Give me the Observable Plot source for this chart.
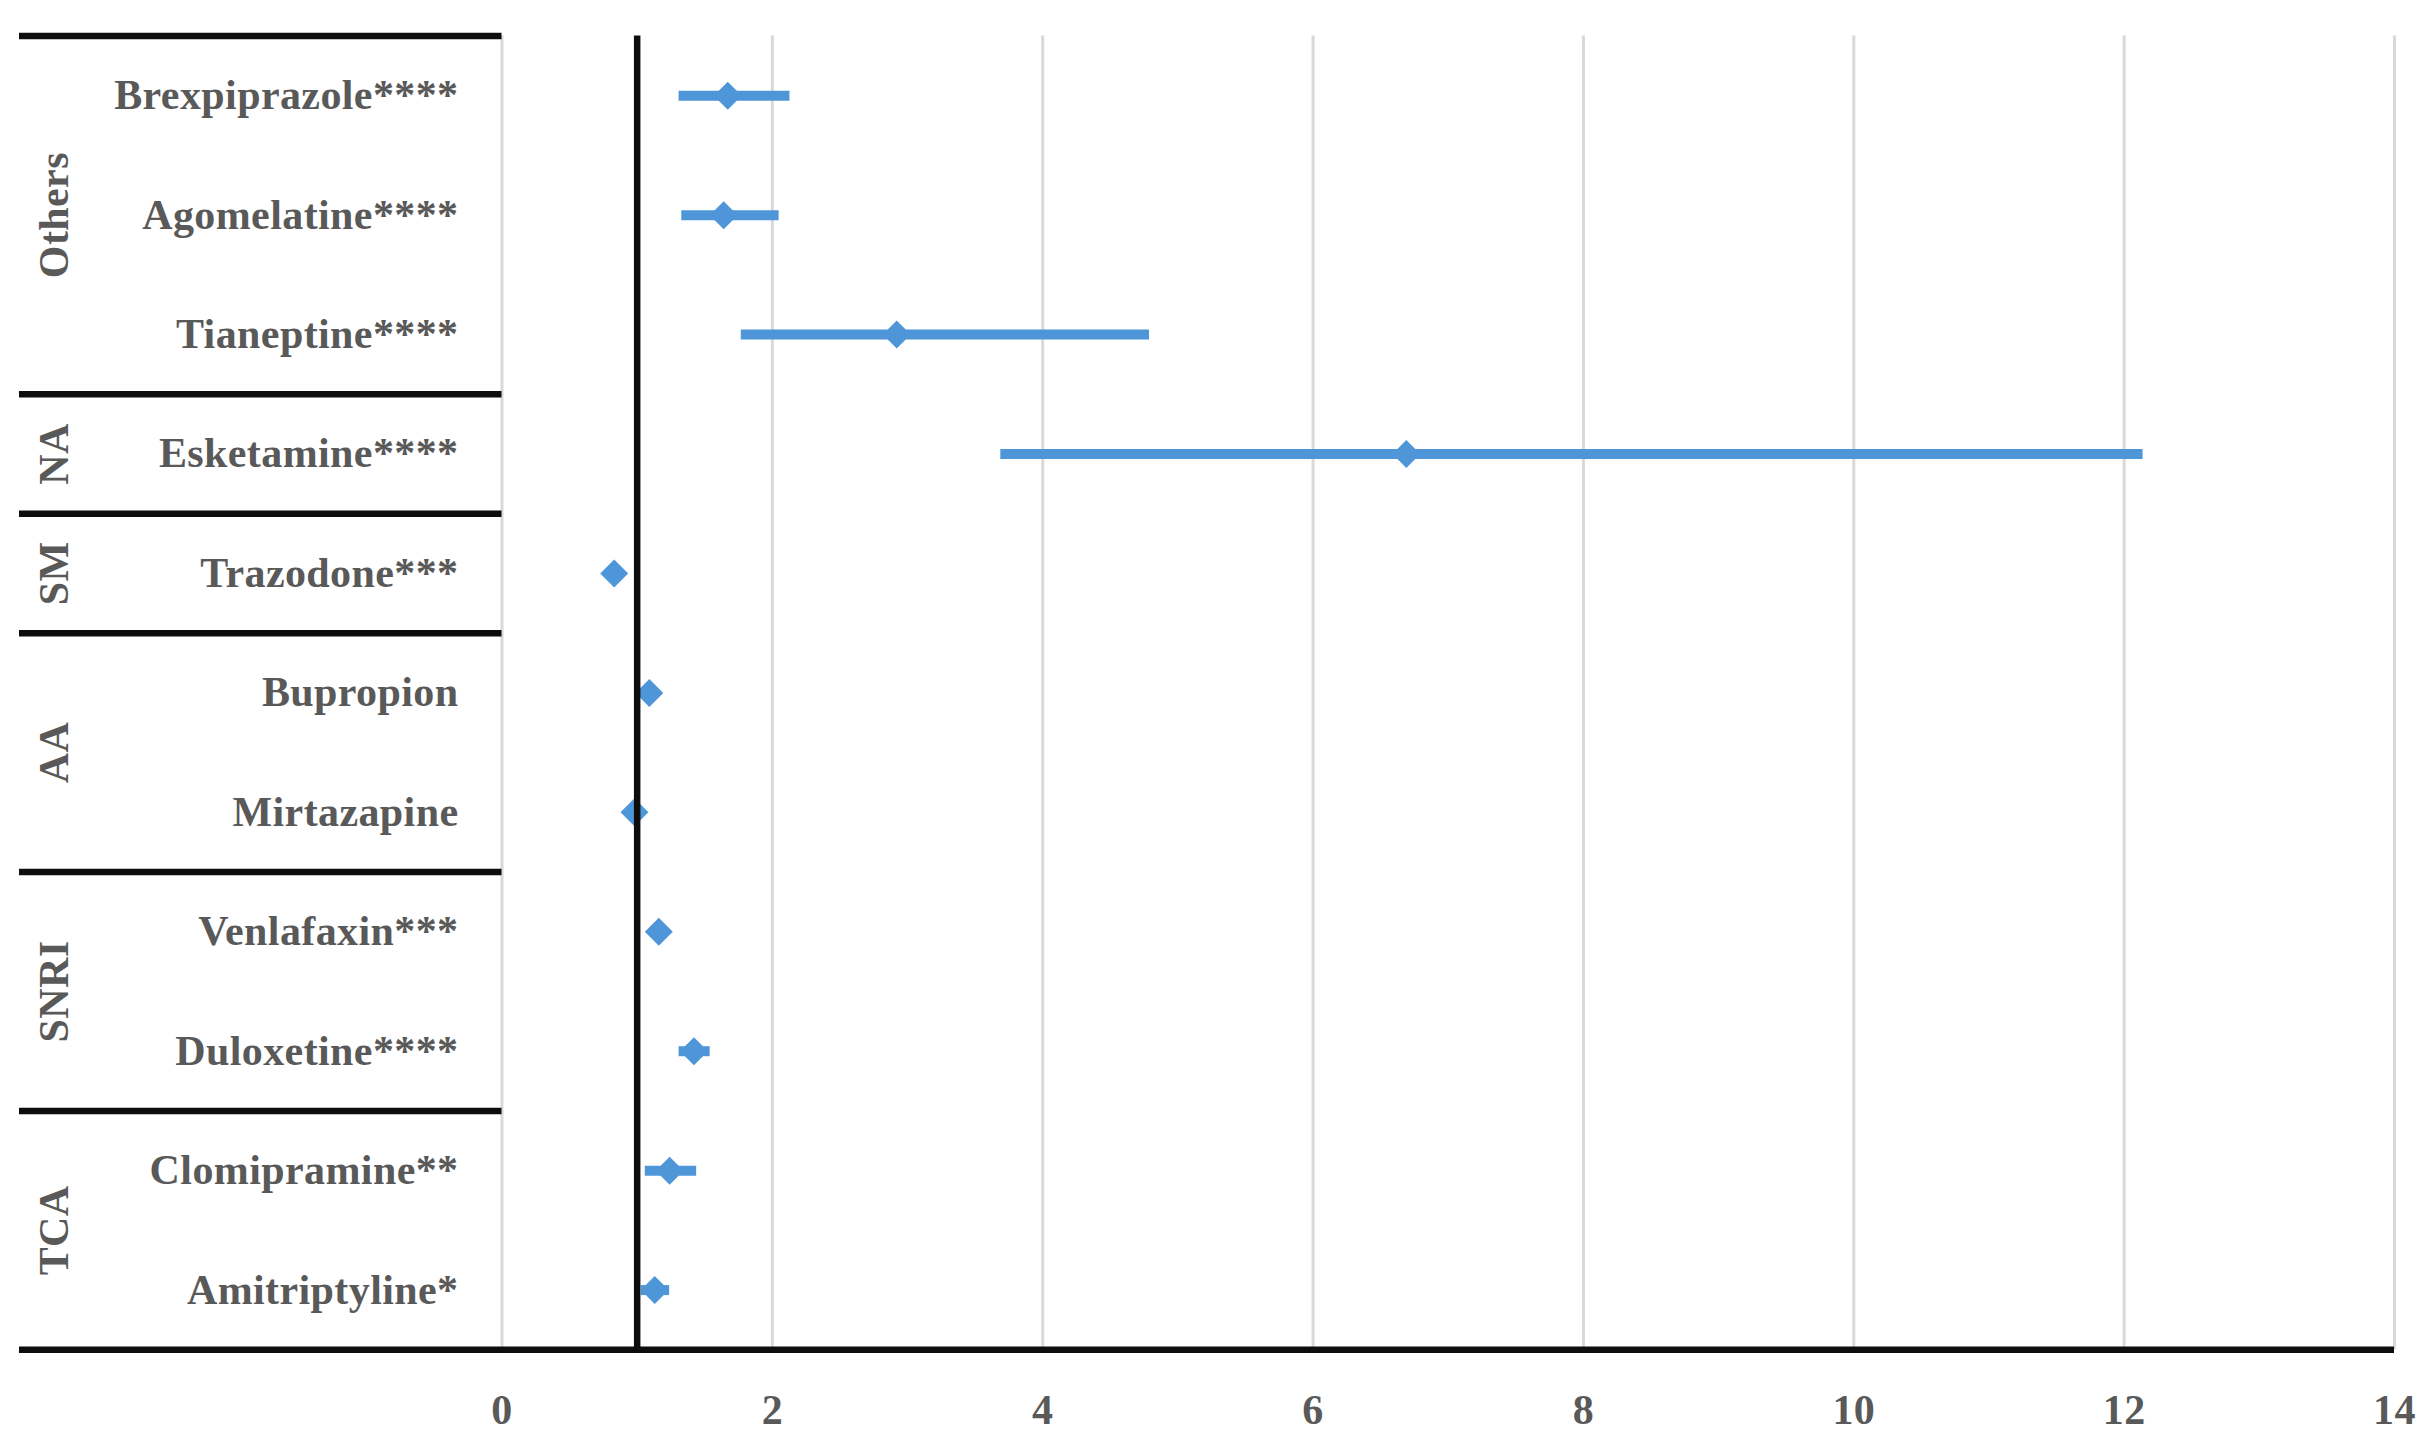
<!DOCTYPE html>
<html>
<head>
<meta charset="utf-8">
<script src="https://cdn.jsdelivr.net/npm/d3@7"></script>
<script src="https://cdn.jsdelivr.net/npm/@observablehq/plot@0.6"></script>
<style>
  html, body { margin: 0; padding: 0; background: #ffffff; }
  #chart { width: 2428px; height: 1440px; }
</style>
</head>
<body>
<div id="chart"></div>
<script>
// ---- data ----
const drugs = ["Brexpiprazole****", "Agomelatine****", "Tianeptine****", "Esketamine****", "Trazodone***", "Bupropion", "Mirtazapine", "Venlafaxin***", "Duloxetine****", "Clomipramine**", "Amitriptyline*"];
const oddsRatio = [1.67, 1.64, 2.92, 6.69, 0.83, 1.09, 0.98, 1.16, 1.42, 1.24, 1.13];
const ciLow     = [1.31, 1.33, 1.77, 3.69, 0.79, 1.04, 0.94, 1.11, 1.31, 1.06, 1.03];
const ciHigh    = [2.13, 2.05, 4.79, 12.14, 0.88, 1.14, 1.03, 1.22, 1.54, 1.44, 1.24];
const groups     = ["Others", "NA", "SM", "AA", "SNRI", "TCA"];
const groupSizes = [3, 1, 1, 2, 2, 2];
const xTicks = [0, 2, 4, 6, 8, 10, 12, 14];
const referenceValue = 1;

// ---- derived tables ----
const rows = drugs.map((name, i) => ({name, idx: i, or: oddsRatio[i], lo: ciLow[i], hi: ciHigh[i]}));
let start = 0;
const groupRows = groups.map((g, k) => {
  const r = {name: g, mid: start + (groupSizes[k] - 1) / 2, end: start + groupSizes[k] - 0.5};
  start += groupSizes[k];
  return r;
});
const separators = [-0.5, ...groupRows.slice(0, -1).map(g => g.end)];
const lastRow = groupRows[groupRows.length - 1].end;

// ---- layout ----
const W = 2428, H = 1440;
const mL = 501.5, mR = 34, mT = 35.5, mB = 90.7;
const xMax = xTicks[xTicks.length - 1];
const xUnit = (W - mL - mR) / xMax;
const panelLeft = -(mL - 19) / xUnit;   // left edge of the label panel, in x units

const blue = "#4f96d9";
const ink = "#0d0d0d";
const textGray = "#595959";
const font = "'Palatino Linotype', 'Book Antiqua', Palatino, 'Liberation Serif', serif";
const fs = 42;

const chart = Plot.plot({
  width: W,
  height: H,
  marginLeft: mL,
  marginRight: mR,
  marginTop: mT,
  marginBottom: mB,
  style: {background: "#ffffff", fontFamily: font, color: textGray, letterSpacing: "0.4px"},
  x: {domain: [0, xMax], axis: null},
  y: {domain: [lastRow, -0.5], axis: null},
  marks: [
    // vertical gridlines
    Plot.ruleX(xTicks, {stroke: "#d9d9d9", strokeWidth: 3}),
    // error bars
    Plot.ruleY(rows, {y: "idx", x1: "lo", x2: "hi", stroke: blue, strokeWidth: 10}),
    // point estimates
    Plot.dot(rows, {x: "or", y: "idx", symbol: "diamond2", r: 12.6, fill: blue, stroke: "none"}),
    // reference line
    Plot.ruleX([referenceValue], {stroke: ink, strokeWidth: 6.5}),
    // group separators in label panel
    Plot.ruleY(separators, {x1: panelLeft, x2: 0, stroke: ink, strokeWidth: 6.5}),
    // bottom axis line
    Plot.ruleY([lastRow], {x1: panelLeft, x2: xMax, stroke: ink, strokeWidth: 6.5}),
    // drug labels
    Plot.text(rows, {x: () => 0, y: "idx", text: "name", textAnchor: "end", dx: -43.5,
      fontSize: fs, fontWeight: "bold", fill: textGray}),
    // group labels
    Plot.text(groupRows, {x: () => 0, y: "mid", text: "name", rotate: -90, dx: -447,
      fontSize: fs, fontWeight: "bold", fill: textGray}),
    // x tick labels
    Plot.axisX({ticks: xTicks, tickSize: 0, tickPadding: 44, fontSize: fs, fontWeight: "bold",
      fill: textGray, tickFormat: d => String(d)})
  ]
});
document.getElementById("chart").appendChild(chart);
</script>
</body>
</html>
